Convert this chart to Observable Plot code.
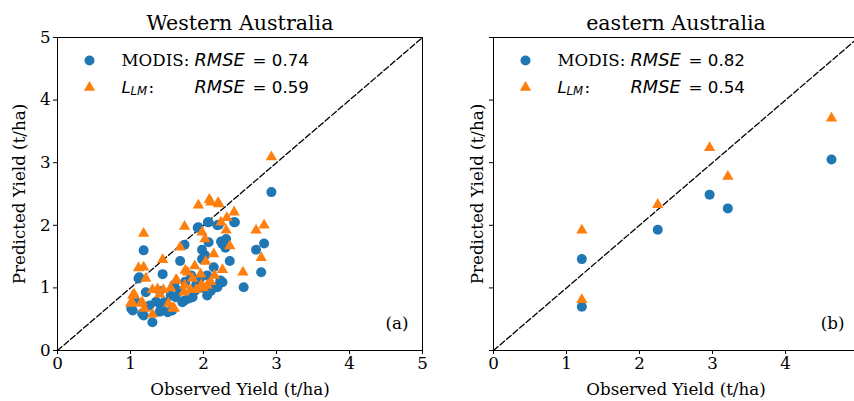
<!DOCTYPE html>
<html><head><meta charset="utf-8">
<script src="https://cdn.jsdelivr.net/npm/d3@7"></script>
<script src="https://cdn.jsdelivr.net/npm/@observablehq/plot@0.6"></script>
<style>
body{margin:0;width:854px;height:401px;overflow:hidden;background:#fff;position:relative}
.panel{position:absolute;top:0;width:430px;height:401px}
.panel svg{max-width:none !important}
</style></head><body>
<div id="a" class="panel" style="left:0"></div>
<div id="b" class="panel" style="left:436px"></div>
<script>
// ---- data ----
const panelTitles = ["Western Australia", "eastern Australia"];
const panelTags = ["(a)", "(b)"];
const rmseModis = [0.74, 0.82];
const rmseLlm = [0.59, 0.54];
const axisTicks = [0, 1, 2, 3, 4, 5];
const xLabel = "Observed Yield (t/ha)";
const yLabel = "Predicted Yield (t/ha)";
const seriesNames = ["MODIS:", "L", "LM", ":"];

// Western Australia, MODIS
const westModisObs = [2.93,1.18,2.83,2.72,2.79,2.55,2.36,2.43,2.24,2.31,2.30,1.93,2.07,2.21,1.74,1.98,2.07,2.02,1.68,1.44,1.11,2.14,2.16,2.26,2.05,1.30,1.01,1.18,1.57,1.71,1.12,1.03,1.16,1.74,1.85,1.21,1.46,1.51,1.98,2.05,2.23,2.19,1.89,1.80,2.26,1.35,1.42,1.26,1.62,1.67,1.90,1.95,2.10,1.55,1.06,1.40,1.75,2.00,1.83,1.40,1.60,2.42,2.19,1.92,2.06];
const westModisPred = [2.53,1.60,1.71,1.61,1.25,1.01,1.43,2.05,1.74,1.78,1.64,1.97,2.05,2.01,1.69,1.61,1.73,1.52,1.43,1.22,1.15,1.33,1.01,1.09,0.88,0.45,0.67,0.56,0.64,0.77,1.17,0.64,0.59,0.80,0.85,0.93,0.77,0.61,1.46,1.20,1.12,1.01,0.96,0.83,1.70,0.78,0.70,0.72,0.85,0.95,1.05,1.15,0.95,0.88,0.80,0.95,1.10,1.00,1.20,0.62,1.05,2.05,2.00,1.96,2.05];
// Western Australia, L_LM
const westLlmObs = [2.93,2.83,2.72,2.79,2.54,2.42,2.20,2.08,1.93,2.32,2.24,2.31,2.36,1.74,1.98,2.02,1.68,1.18,2.14,2.03,1.44,1.11,1.18,1.75,1.88,2.26,2.15,1.96,1.63,1.21,2.05,1.30,1.37,1.45,1.05,1.02,1.16,1.30,1.52,1.58,1.73,1.03,1.62,1.74,1.82,1.90,1.00,1.14,1.19,1.60,1.78,1.97,2.00,1.40,1.55,1.85,2.10,2.10,2.21];
const westLlmPred = [3.09,2.00,1.92,1.48,1.25,2.21,2.36,2.41,2.32,2.12,2.05,1.92,1.67,1.98,1.89,1.78,1.65,1.87,1.54,1.42,1.45,1.32,1.33,1.28,1.35,1.29,1.20,1.22,1.13,1.15,1.04,0.97,0.98,0.97,0.90,0.77,0.77,0.58,0.75,0.68,0.93,0.88,1.12,1.04,0.97,0.97,0.75,0.75,0.67,0.67,1.25,1.05,1.00,0.90,1.00,1.15,1.10,2.37,2.34];

// eastern Australia
const eastModisObs = [1.21,1.21,2.25,2.96,3.21,4.63];
const eastModisPred = [1.46,0.70,1.93,2.49,2.27,3.05];
const eastLlmObs = [1.21,1.21,2.25,2.96,3.21,4.63];
const eastLlmPred = [1.92,0.81,2.33,3.24,2.78,3.71];

const BLUE = "#1f77b4", ORANGE = "#ff7f0e";
const zip = (xs, ys) => xs.map((x, i) => ({x, y: ys[i]}));
const diag = axisTicks.map(v => ({x: v, y: v}));

function panel(i, modis, llm, showYTickLabels, yLabelOffset) {
  const fs = 16.7;
  const legY1 = 23, legY2 = 50;
  const t = (txt, o) => Plot.text([txt], {frameAnchor: "top-left", textAnchor: "start", lineAnchor: "middle", fill: "#000", ...o});
  return Plot.plot({
    width: 430, height: 401,
    marginLeft: 57, marginRight: 8, marginTop: 37, marginBottom: 51,
    x: {domain: [0, 5]},
    y: {domain: [0, 5]},
    style: {fontFamily: "DejaVu Serif", fontSize: fs + "px", color: "#000", background: "#fff", overflow: "visible", maxWidth: "none"},
    marks: [
      Plot.axisX({ticks: axisTicks, tickSize: 4, tickPadding: 3, tickFormat: d => String(d),
        label: xLabel, labelAnchor: "center", labelArrow: false, labelOffset: 44}),
      Plot.axisY({ticks: axisTicks, tickSize: 4, tickPadding: 3, tickFormat: showYTickLabels ? (d => String(d)) : (() => ""),
        label: yLabel, labelAnchor: "center", labelArrow: false, labelOffset: yLabelOffset}),
      Plot.line(diag, {x: "x", y: "y", stroke: "#000", strokeWidth: 1.3, strokeDasharray: "6,2.6"}),
      Plot.dot(modis, {x: "x", y: "y", r: 5, fill: BLUE, stroke: "none"}),
      Plot.dot(llm, {x: "x", y: "y", r: 4.2, symbol: "triangle", fill: ORANGE, stroke: "none"}),
      Plot.frame({stroke: "#000", strokeWidth: 1}),
      // title
      Plot.text([panelTitles[i]], {frameAnchor: "top", lineAnchor: "bottom", dy: -8, fontSize: 20.6, fill: "#000"}),
      // panel tag
      Plot.text([panelTags[i]], {frameAnchor: "bottom-right", textAnchor: "end", lineAnchor: "middle", dx: -14, dy: -27, fill: "#000"}),
      // legend
      Plot.dot([0], {frameAnchor: "top-left", dx: 32, dy: legY1, r: 5, fill: BLUE, stroke: "none"}),
      Plot.dot([0], {frameAnchor: "top-left", dx: 32, dy: legY2, r: 4.2, symbol: "triangle", fill: ORANGE, stroke: "none"}),
      t(seriesNames[0], {dx: 64, dy: legY1}),
      t("RMSE", {dx: 137, dy: legY1, fontFamily: "DejaVu Sans", fontStyle: "italic", fontSize: 17.8}),
      t("= " + rmseModis[i].toFixed(2), {dx: 195, dy: legY1, fontFamily: "DejaVu Sans"}),
      t(seriesNames[1], {dx: 64, dy: legY2, fontFamily: "DejaVu Sans", fontStyle: "italic"}),
      t(seriesNames[2], {dx: 73, dy: legY2 + 4, fontFamily: "DejaVu Sans", fontStyle: "italic", fontSize: 11.7}),
      t(seriesNames[3], {dx: 91, dy: legY2}),
      t("RMSE", {dx: 137, dy: legY2, fontFamily: "DejaVu Sans", fontStyle: "italic", fontSize: 17.8}),
      t("= " + rmseLlm[i].toFixed(2), {dx: 195, dy: legY2, fontFamily: "DejaVu Sans"})
    ]
  });
}

document.getElementById("a").append(panel(0, zip(westModisObs, westModisPred), zip(westLlmObs, westLlmPred), true, 44));
document.getElementById("b").append(panel(1, zip(eastModisObs, eastModisPred), zip(eastLlmObs, eastLlmPred), false, 22));
</script>
</body></html>
